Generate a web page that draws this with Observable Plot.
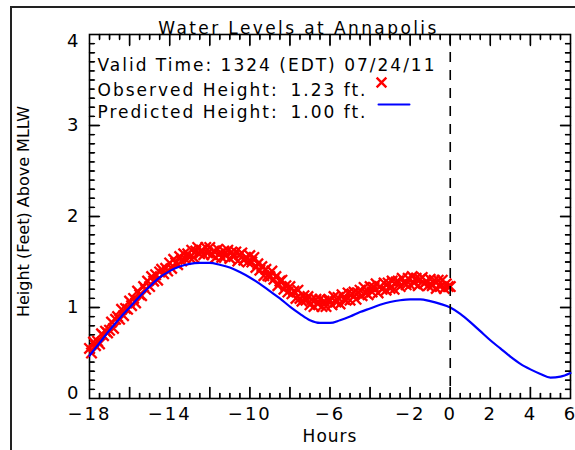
<!DOCTYPE html>
<html>
<head>
<meta charset="utf-8">
<script src="https://cdn.jsdelivr.net/npm/d3@7"></script>
<script src="https://cdn.jsdelivr.net/npm/@observablehq/plot@0.6"></script>
<style>
  html, body { margin: 0; padding: 0; background: #fff; }
  #edge { position: absolute; left: 10px; top: 6px; width: 600px; height: 500px;
          border-left: 2px solid #222; border-top: 2px solid #222; pointer-events: none; }
</style>
</head>
<body>
<div id="wrap"></div>
<div id="edge"></div>
<script>
// Annapolis water levels, 6-minute observations over the 18 hours before valid time (ft above MLLW)
const obsStartHour = -18;
const obsStepHours = 0.1;
const obsHeights = [
  0.55, 0.50, 0.62, 0.58, 0.63, 0.60, 0.71, 0.69, 0.74, 0.72,
  0.75, 0.84, 0.77, 0.87, 0.90, 0.87, 0.98, 0.91, 0.99, 0.98,
  1.07, 1.02, 1.10, 1.05, 1.18, 1.14, 1.13, 1.23, 1.20, 1.29,
  1.23, 1.34, 1.29, 1.36, 1.30, 1.39, 1.42, 1.37, 1.43, 1.40,
  1.49, 1.43, 1.53, 1.49, 1.47, 1.56, 1.51, 1.59, 1.53, 1.59,
  1.55, 1.63, 1.55, 1.62, 1.66, 1.59, 1.63, 1.58, 1.66, 1.60,
  1.66, 1.58, 1.62, 1.55, 1.64, 1.59, 1.55, 1.62, 1.57, 1.63,
  1.54, 1.61, 1.56, 1.61, 1.51, 1.58, 1.60, 1.52, 1.55, 1.50,
  1.57, 1.50, 1.55, 1.44, 1.48, 1.41, 1.45, 1.35, 1.42, 1.35,
  1.34, 1.40, 1.31, 1.34, 1.24, 1.29, 1.30, 1.20, 1.24, 1.17,
  1.23, 1.15, 1.18, 1.10, 1.19, 1.10, 1.07, 1.13, 1.08, 1.12,
  1.03, 1.09, 1.01, 1.09, 1.04, 1.09, 1.01, 1.07, 1.01, 1.08,
  1.08, 1.03, 1.12, 1.06, 1.11, 1.04, 1.14, 1.09, 1.08, 1.16,
  1.08, 1.15, 1.17, 1.09, 1.16, 1.19, 1.13, 1.22, 1.16, 1.14,
  1.23, 1.17, 1.22, 1.26, 1.16, 1.23, 1.20, 1.27, 1.19, 1.27,
  1.21, 1.29, 1.20, 1.28, 1.29, 1.23, 1.32, 1.27, 1.25, 1.32,
  1.25, 1.34, 1.27, 1.32, 1.24, 1.31, 1.33, 1.26, 1.29, 1.24,
  1.31, 1.24, 1.30, 1.21, 1.30, 1.23, 1.30, 1.21, 1.26, 1.23,
  1.23
];

// Tide prediction every half hour, -18 h to +6 h
const predStartHour = -18;
const predStepHours = 0.5;
const predHeights = [
  0.47, 0.61, 0.75, 0.88, 1.00, 1.12, 1.23, 1.33, 1.40, 1.45,
  1.48, 1.49, 1.49, 1.47, 1.44, 1.39, 1.33, 1.26, 1.18, 1.10,
  1.01, 0.93, 0.86, 0.83, 0.83, 0.86, 0.90, 0.95, 0.99, 1.03,
  1.06, 1.08, 1.09, 1.09, 1.07, 1.04, 1.00, 0.93, 0.84, 0.74,
  0.64, 0.55, 0.46, 0.38, 0.32, 0.27, 0.23, 0.24, 0.28
];

const titleText = "Water Levels at Annapolis";
const validText = "Valid Time: 1324 (EDT) 07/24/11";
const obsLabel = "Observed Height:";
const predLabel = "Predicted Height:";
const xLabel = "Hours";
const yLabel = "Height (Feet) Above MLLW";
const xDomain = [-18, 6];
const yDomain = [0, 4];
const xLabelTicks = [-18, -14, -10, -6, -2, 0, 2, 4, 6];
const yLabelTicks = [0, 1, 2, 3, 4];
const xMajorTicks = d3.range(-16, 5, 2);
const xMinorTicks = d3.range(-17.5, 6, 0.5).filter(h => Math.abs(h % 2) > 0.01);
const yMajorTicks = [1, 2, 3];
const yMinorTicks = d3.range(1, 40).filter(k => k % 10 !== 0).map(k => k / 10);

const observed = obsHeights.map((height, i) => ({hour: obsStartHour + i * obsStepHours, height}));
const predicted = predHeights.map((height, i) => ({hour: predStartHour + i * predStepHours, height}));
const nowObserved = obsHeights[obsHeights.length - 1];
const nowPredicted = predicted.find(d => Math.abs(d.hour) < 1e-9).height;

const RED = "#ff0000", BLUE = "#0000ff";
const innerW = 575 - 89 - 5, innerH = 450 - 34 - 52;

// plain line segment used for ticks and the legend swatch
const segment = {draw(context, l) { context.moveTo(0, 0); context.lineTo(0, -l); }};

// inward ticks along one side of the frame
function sideTicks(values, side, len) {
  const horizontal = side === "top" || side === "bottom";
  const rotate = {bottom: 0, top: 180, left: 90, right: -90}[side];
  return Plot.vector(values, {
    x: horizontal ? d => d : null,
    y: horizontal ? null : d => d,
    frameAnchor: side, rotate, length: len, anchor: "start",
    shape: segment, stroke: "#000", strokeWidth: 1.4
  });
}

// the same inward ticks as short rules inset from the opposite side
function sideRules(values, side, len) {
  const o = {stroke: "#000", strokeWidth: 1.4};
  if (side === "bottom") return Plot.ruleX(values, {...o, insetTop: innerH - len});
  if (side === "top") return Plot.ruleX(values, {...o, insetBottom: innerH - len});
  if (side === "left") return Plot.ruleY(values, {...o, insetRight: innerW - len});
  return Plot.ruleY(values, {...o, insetLeft: innerW - len});
}

const tickSpecs = [
  [xMinorTicks, "bottom", 5], [xMinorTicks, "top", 5],
  [xMajorTicks, "bottom", 11], [xMajorTicks, "top", 11],
  [yMinorTicks, "left", 5], [yMinorTicks, "right", 5],
  [yMajorTicks, "left", 10], [yMajorTicks, "right", 10]
];

// y tick labels: end labels sit inside the frame's extent, the rest are centred on their tick
const yLabelMark = (values, lineAnchor) =>
  Plot.text(values, {y: d => d, frameAnchor: "left", dx: -9, textAnchor: "end", lineAnchor, text: d => String(d), fontSize: 18});

const chart = Plot.plot({
  width: 575, height: 450,
  marginTop: 34, marginRight: 5, marginBottom: 52, marginLeft: 89,
  style: {fontFamily: "'DejaVu Sans', sans-serif", fontSize: "17px", color: "#000", overflow: "visible"},
  x: {domain: xDomain},
  y: {domain: yDomain, axis: null},
  marks: [
    Plot.frame({stroke: "#000", strokeWidth: 1.6}),
    ...tickSpecs.map(([v, s, l]) => sideTicks(v, s, l)),
    ...tickSpecs.map(([v, s, l]) => sideRules(v, s, l)),

    Plot.dot(observed, {x: "hour", y: "height", symbol: "times", r: 4.8, stroke: RED, strokeWidth: 2.3}),
    Plot.line(predicted, {x: "hour", y: "height", stroke: BLUE, strokeWidth: 2.2, curve: "monotone-x"}),
    Plot.ruleX([0], {stroke: "#000", strokeWidth: 1.6, strokeDasharray: "10,8"}),

    Plot.axisX({ticks: xLabelTicks, tickSize: 0, tickPadding: 9, label: null, fontSize: 18}),
    yLabelMark(yLabelTicks.slice(1, -1), "middle"),
    yLabelMark(yLabelTicks.slice(-1), "top"),
    yLabelMark(yLabelTicks.slice(0, 1), "bottom"),
    Plot.text([xLabel], {frameAnchor: "bottom", dy: 43}),
    Plot.text([yLabel], {frameAnchor: "left", dx: -66, dy: -5, rotate: -90, textAnchor: "middle", fontSize: 16}),
    Plot.text([titleText], {frameAnchor: "top-left", dx: 209, dy: -13, textAnchor: "middle"}),

    // in-plot legend
    Plot.text([validText], {frameAnchor: "top-left", dx: 8, dy: 24, textAnchor: "start"}),
    Plot.text([obsLabel], {frameAnchor: "top-left", dx: 8, dy: 49, textAnchor: "start"}),
    Plot.text([predLabel], {frameAnchor: "top-left", dx: 8, dy: 71, textAnchor: "start"}),
    Plot.text([`${nowObserved.toFixed(2)} ft.`], {frameAnchor: "top-left", dx: 201, dy: 49, textAnchor: "start"}),
    Plot.text([`${nowPredicted.toFixed(2)} ft.`], {frameAnchor: "top-left", dx: 201, dy: 71, textAnchor: "start"}),
    Plot.dot([nowObserved], {x: null, y: null, frameAnchor: "top-left", dx: 292, dy: 48, symbol: "times", r: 4.5, stroke: RED, strokeWidth: 2.4}),
    Plot.vector([nowPredicted], {x: null, y: null, frameAnchor: "top-left", dx: 289, dy: 70, length: 31, rotate: 90, anchor: "start", shape: segment, stroke: BLUE, strokeWidth: 2})
  ]
});

// the glyphs of this chart's lettering are set wide
d3.select(chart).selectAll("text").style("letter-spacing", "2px");
d3.select(chart).selectAll("text").filter(function () { return this.textContent === yLabel; }).style("letter-spacing", "0px");
d3.select(chart).selectAll("text").filter(function () { return this.textContent === titleText; }).style("letter-spacing", "2.4px");
d3.select(chart).selectAll("text").filter(function () { return this.textContent === xLabel; }).style("letter-spacing", "1px");

document.getElementById("wrap").append(chart);
</script>
</body>
</html>
